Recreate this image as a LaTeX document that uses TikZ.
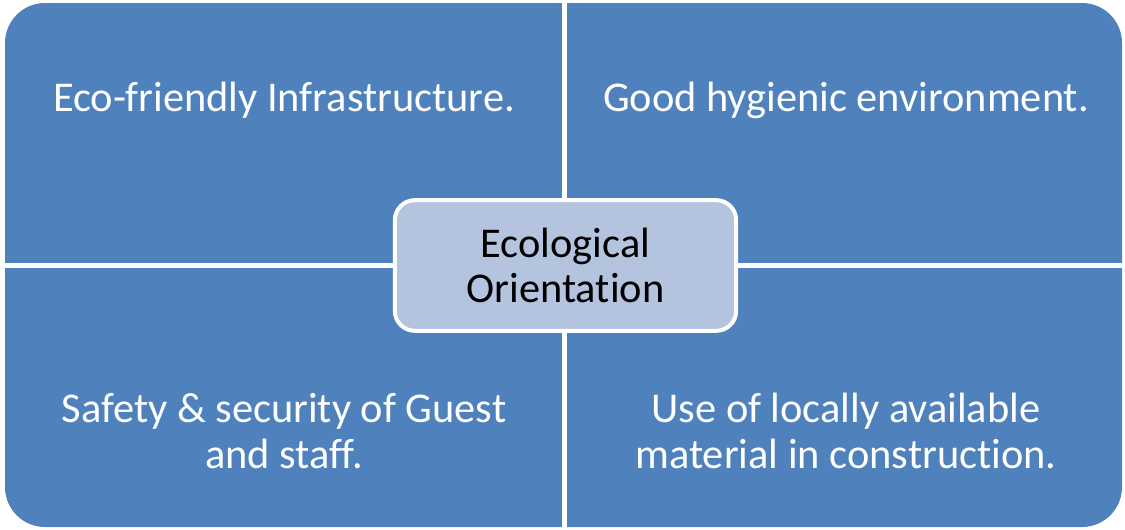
\documentclass[tikz,border=0pt]{standalone}
\usepackage{fontspec}
\setmainfont[Ligatures=NoCommon]{Carlito}
\definecolor{quadblue}{RGB}{79,129,189}
\definecolor{hubfill}{RGB}{180,195,222}
\tikzset{
	quadtext/.style={text=white, align=center, font=\fontsize{31.8}{35}\selectfont},
	hubbox/.style={draw=white, line width=3pt, fill=hubfill, rounded corners=15pt,
		minimum width=256pt, minimum height=98pt, align=center,
		font=\fontsize{31.8}{34}\selectfont}
}
\begin{document}
\begin{tikzpicture}[x=0.75pt, y=-0.75pt]

	\useasboundingbox (0,0) rectangle (1125,529);
	\fill[quadblue, rounded corners=30pt] (5,3) rectangle (1122,527);
	\fill[white] (562,0) rectangle (567,529);
	\fill[white] (0,263) rectangle (1125,268);

	\node[quadtext] (infra) at (284,100) {Eco-friendly Infrastructure.};
	\node[quadtext] (hygiene) at (846,100) {Good hygienic environment.};
	\node[quadtext] (safety) at (284,431) {Safety \& security of Guest\\and staff.};
	\node[quadtext] (local) at (846,431) {Use of locally available\\material in construction.};

	\node[hubbox] (hub) at (565.5,265.5) {Ecological\\Orientation};

\end{tikzpicture}
\end{document}
